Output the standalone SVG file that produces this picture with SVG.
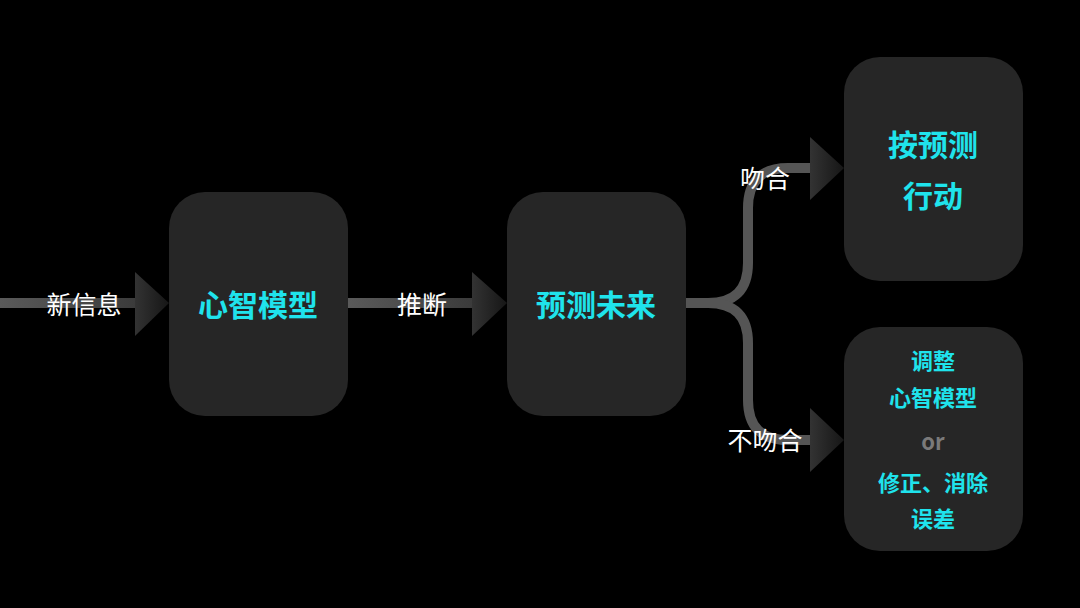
<svg xmlns="http://www.w3.org/2000/svg" width="1080" height="608" viewBox="0 0 1080 608">
<defs>
<linearGradient id="tri" x1="0" y1="0" x2="1" y2="0">
<stop offset="0" stop-color="#333333"/>
<stop offset="1" stop-color="#161616"/>
</linearGradient>
<linearGradient id="ln" x1="0" y1="0" x2="1" y2="0">
<stop offset="0" stop-color="#5a5a5a"/>
<stop offset="1" stop-color="#3a3a3a"/>
</linearGradient>
<style>
.box{fill:#262626}
.t{font-family:"Noto Sans CJK SC","Noto Sans",sans-serif;font-weight:700;fill:#1fe3ec;text-anchor:middle;dominant-baseline:central}
.lbl{font-family:"Noto Sans CJK SC","Noto Sans",sans-serif;font-size:25px;fill:#ffffff;text-anchor:middle;dominant-baseline:central}
.line{fill:none;stroke:#555555;stroke-width:10}
.arr{fill:url(#tri)}
</style>
</defs>
<rect width="1080" height="608" fill="#000000"/>
<g id="connectors">
<rect x="0" y="298" width="140" height="10" fill="url(#ln)"/>
<polygon class="arr" points="135,272 169,303 135,336"/>
<rect x="348" y="298" width="128" height="10" fill="url(#ln)"/>
<polygon class="arr" points="472,272 507,303 472,336"/>
<path class="line" d="M686,303 H708 Q748,303 748,263 V208 Q748,168 788,168 H814"/>
<path class="line" d="M686,303 H708 Q748,303 748,343 V400 Q748,440 788,440 H814"/>
<polygon class="arr" points="810,137 844,168 810,200"/>
<polygon class="arr" points="810,408 844,440 810,472"/>
<text class="lbl" x="84" y="303">新信息</text>
<text class="lbl" x="422" y="303">推断</text>
<text class="lbl" x="765" y="177">吻合</text>
<text class="lbl" x="765" y="439">不吻合</text>
</g>
<g id="node-mental-model">
<rect class="box" x="169" y="192" width="179" height="224" rx="36"/>
<text class="t" x="258" y="303" font-size="30">心智模型</text>
</g>
<g id="node-predict">
<rect class="box" x="507" y="192" width="179" height="224" rx="36"/>
<text class="t" x="596" y="303" font-size="30">预测未来</text>
</g>
<g id="node-act">
<rect class="box" x="844" y="57" width="179" height="224" rx="36"/>
<text class="t" x="933" y="143" font-size="30">按预测</text>
<text class="t" x="933" y="194" font-size="30">行动</text>
</g>
<g id="node-adjust">
<rect class="box" x="844" y="327" width="179" height="224" rx="36"/>
<text class="t" x="933" y="359" font-size="22">调整</text>
<text class="t" x="933" y="396" font-size="22">心智模型</text>
<text class="t" x="933" y="440" font-size="22" style="fill:#7a7a7a">or</text>
<text class="t" x="933" y="481" font-size="22">修正、消除</text>
<text class="t" x="933" y="517" font-size="22">误差</text>
</g>
</svg>
